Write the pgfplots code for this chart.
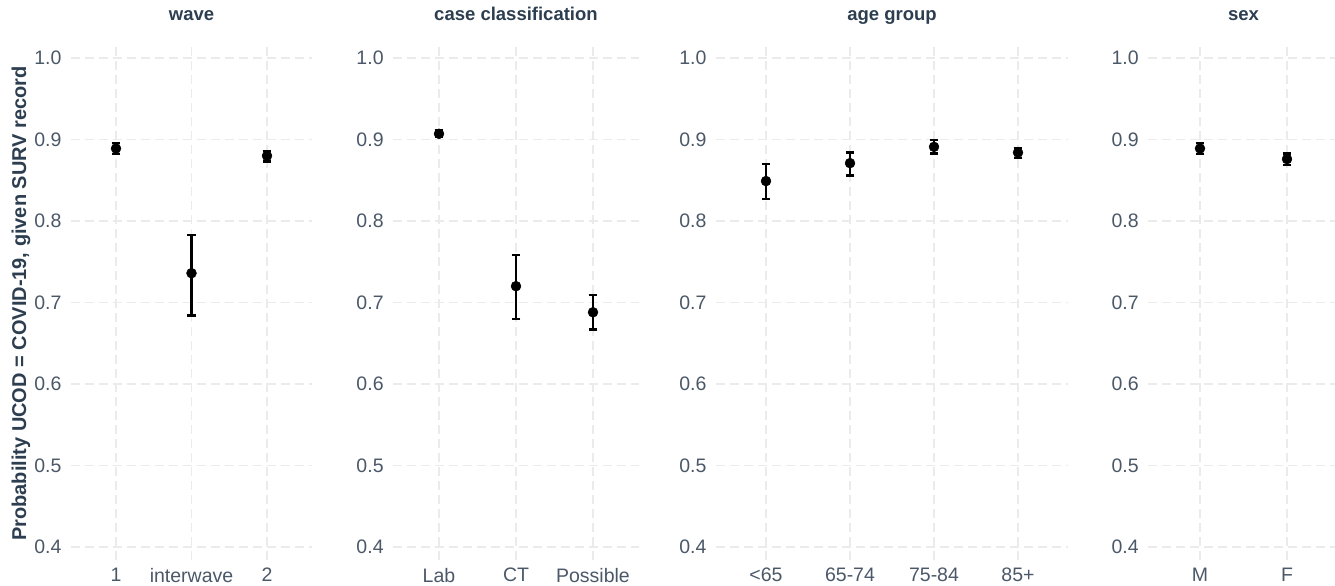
\documentclass[border=0pt]{standalone}
\usepackage{pgfplots}
\pgfplotsset{compat=1.18}
\usepackage{pgfplotstable}
\usepackage{fontspec}
\setmainfont{Liberation Sans}
\definecolor{tickc}{HTML}{4B5868}
\definecolor{titlec}{HTML}{2C3E50}
\definecolor{gridc}{HTML}{EBEBEB}

\pgfplotstableread{
x y lo hi
0 0.889 0.882 0.896
1 0.736 0.684 0.783
2 0.880 0.873 0.886
}\wavedata
\pgfplotstableread{
x y lo hi
0 0.907 0.903 0.911
1 0.720 0.680 0.758
2 0.688 0.667 0.709
}\casedata
\pgfplotstableread{
x y lo hi
0 0.849 0.827 0.870
1 0.871 0.856 0.884
2 0.891 0.883 0.899
3 0.884 0.877 0.890
}\agedata
\pgfplotstableread{
x y lo hi
0 0.889 0.882 0.896
1 0.876 0.869 0.883
}\sexdata

\pgfplotsset{
  panel/.style={
    scale only axis, anchor=south west, height=515bp,
    ymin=0.384, ymax=1.016, xmin=-0.6,
    ytick={0.4,0.5,0.6,0.7,0.8,0.9,1.0},
    /pgf/number format/assume math mode=true,
    yticklabel style={/pgf/number format/fixed, /pgf/number format/fixed zerofill, /pgf/number format/precision=1,
      anchor=east, inner sep=0pt, xshift=-9bp},
    xticklabel style={anchor=north, inner sep=0pt, yshift=-8bp},
    xtick=data,
    grid=major,
    major grid style={gridc, line width=1.1bp, dash pattern=on 9bp off 5bp},
    axis line style={draw=none}, major tick length=0pt,
    tick label style={font=\fontsize{19.5bp}{23bp}\selectfont, color=tickc},
    title style={at={(0.5,1)}, anchor=base, yshift=19bp, inner sep=0pt,
      font=\bfseries\fontsize{18.5bp}{22bp}\selectfont, color=titlec},
    clip=false,
  },
  pts/.style={only marks, mark=*, black, line width=2.3bp,
    mark options={line width=0.4bp, mark size=5bp},
    error bars/.cd, y dir=both, y explicit,
    error bar style={line width=2.3bp, black, solid},
    error mark options={rotate=90, mark size=4.3bp, line width=2.3bp, black}},
}

\begin{document}
\begin{tikzpicture}
\path[use as bounding box] (0,0) rectangle (1335bp,586bp);

\begin{axis}[panel, at={(70.7bp,26bp)}, width=241.6bp, xmax=2.6,
  xticklabels={1,interwave,2}, title={wave}]
\addplot[pts] table[x=x, y=y, y error plus expr=\thisrow{hi}-\thisrow{y}, y error minus expr=\thisrow{y}-\thisrow{lo}] {\wavedata};
\end{axis}

\begin{axis}[panel, at={(392.8bp,26bp)}, width=246.4bp, xmax=2.6,
  xticklabels={Lab,CT,Possible}, title={case classification}]
\addplot[pts] table[x=x, y=y, y error plus expr=\thisrow{hi}-\thisrow{y}, y error minus expr=\thisrow{y}-\thisrow{lo}] {\casedata};
\end{axis}

\begin{axis}[panel, at={(715.6bp,26bp)}, width=352.8bp, xmax=3.6,
  xticklabels={<65,65-74,75-84,85+}, title={age group}]
\addplot[pts] table[x=x, y=y, y error plus expr=\thisrow{hi}-\thisrow{y}, y error minus expr=\thisrow{y}-\thisrow{lo}] {\agedata};
\end{axis}

\begin{axis}[panel, at={(1147.8bp,26bp)}, width=191.4bp, xmax=1.6,
  xticklabels={M,F}, title={sex}]
\addplot[pts] table[x=x, y=y, y error plus expr=\thisrow{hi}-\thisrow{y}, y error minus expr=\thisrow{y}-\thisrow{lo}] {\sexdata};
\end{axis}

\node[rotate=90, anchor=base, inner sep=0pt, color=titlec,
  font=\bfseries\fontsize{20bp}{24bp}\selectfont] at (26bp,282.5bp)
  {Probability UCOD = COVID-19, given SURV record};
\end{tikzpicture}
\end{document}
